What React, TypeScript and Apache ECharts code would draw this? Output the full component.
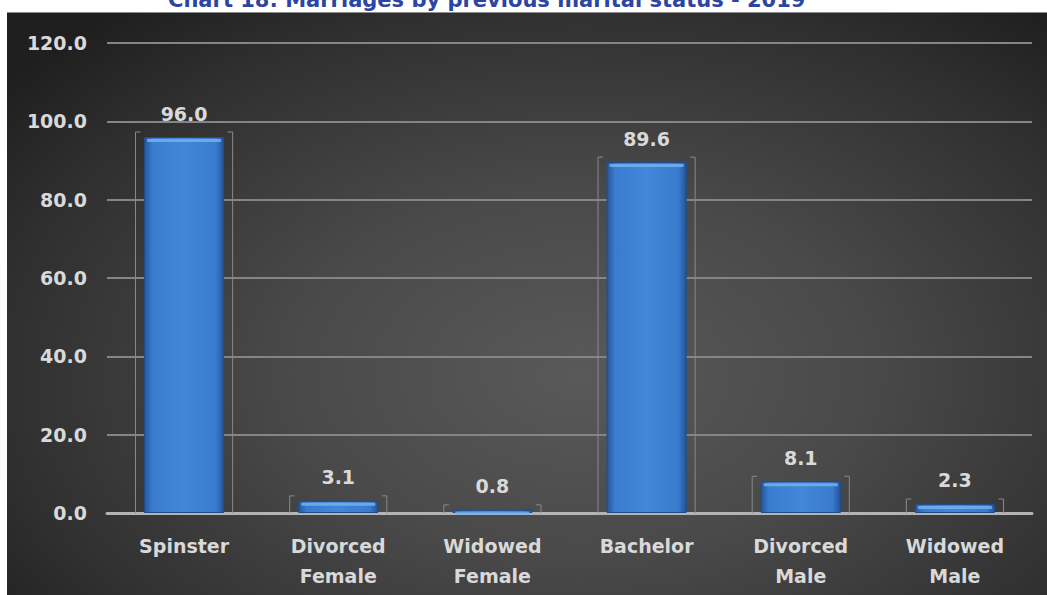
import React, { useEffect, useRef } from "react";
import * as echarts from "echarts";

const categories = ["Spinster", "Divorced\nFemale", "Widowed\nFemale", "Bachelor", "Divorced\nMale", "Widowed\nMale"];
const values = [96.0, 3.1, 0.8, 89.6, 8.1, 2.3];
const titleText = "Chart 18: Marriages by previous marital status - 2019";
const FONT = "DejaVu Sans";

export default function App() {
  const ref = useRef<HTMLDivElement>(null);
  useEffect(() => {
    if (!ref.current) return;
    const chart = echarts.init(ref.current, undefined, { renderer: "svg" });
    const barColor = new echarts.graphic.LinearGradient(0, 0, 1, 0, [
      { offset: 0, color: "#25569c" },
      { offset: 0.1, color: "#3a7ccf" },
      { offset: 0.5, color: "#4287d9" },
      { offset: 0.9, color: "#3a7bcd" },
      { offset: 1, color: "#24549a" },
    ]);
    chart.setOption({
      animation: false,
      backgroundColor: "transparent",
      title: {
        text: titleText,
        left: 163,
        top: -16,
        textStyle: { color: "#2c45a3", fontSize: 21, fontWeight: "bold", fontFamily: FONT },
      },
      grid: { left: 107, right: 15, top: 43, bottom: 82, containLabel: false },
      xAxis: {
        type: "category",
        data: categories,
        axisLine: { show: true, lineStyle: { color: "#b4b4b4", width: 3 } },
        axisTick: { show: false },
        axisLabel: {
          color: "#d9d9d9",
          fontSize: 19,
          fontWeight: "bold",
          fontFamily: FONT,
          lineHeight: 30,
          margin: 18,
          interval: 0,
        },
      },
      yAxis: {
        type: "value",
        min: 0,
        max: 120,
        interval: 20,
        axisLine: { show: false },
        axisTick: { show: false },
        axisLabel: {
          color: "#d9d9d9",
          fontSize: 19,
          fontWeight: "bold",
          fontFamily: FONT,
          margin: 20,
          formatter: (v: number) => v.toFixed(1),
        },
        splitLine: { lineStyle: { color: "#858585", width: 2 } },
      },
      series: [
        {
          type: "custom",
          z: 1,
          data: values.map((v, i) => [i, v]),
          renderItem: (params: any, api: any) => {
            const idx = api.value(0);
            const val = api.value(1);
            const top = api.coord([idx, val]);
            const base = api.coord([idx, 0]);
            const band = api.size([1, 0])[0];
            const fw = band * 0.63;
            const lx = top[0] - fw / 2;
            const rx = top[0] + fw / 2;
            const ty = top[1] - 5;
            const st = { stroke: "#8a8a8a", lineWidth: 1, fill: "none" };
            return {
              type: "group",
              children: [
                { type: "polyline", shape: { points: [[lx + 5, ty], [lx, ty], [lx, base[1]]] }, style: st },
                { type: "polyline", shape: { points: [[rx - 5, ty], [rx, ty], [rx, base[1]]] }, style: st },
              ],
            };
          },
        },
        {
          type: "bar",
          z: 2,
          data: values,
          barWidth: "52%",
          itemStyle: { color: barColor, borderColor: "#1f4c8c", borderWidth: 1 },
          label: {
            show: true,
            position: "top",
            distance: 14,
            color: "#d9d9d9",
            fontSize: 19,
            fontWeight: "bold",
            fontFamily: FONT,
            formatter: (p: any) => Number(p.value).toFixed(1),
          },
        },
        {
          type: "custom",
          z: 3,
          data: values.map((v, i) => [i, v]),
          renderItem: (params: any, api: any) => {
            const idx = api.value(0);
            const val = api.value(1);
            const top = api.coord([idx, val]);
            const band = api.size([1, 0])[0];
            const bw = band * 0.52;
            return {
              type: "rect",
              shape: { x: top[0] - bw / 2 + 3, y: top[1] + 2, width: bw - 6, height: 3, r: 1 },
              style: { fill: "#74b0f0", opacity: 0.85 },
            };
          },
        },
      ],
    });
    return () => chart.dispose();
  }, []);
  return (
    <div style={{ position: "fixed", left: 0, top: 0, width: 1047, height: 595, background: "#ffffff", overflow: "hidden" }}>
      <div
        style={{
          position: "absolute",
          left: 7,
          top: 12,
          right: 0,
          bottom: 0,
          borderTop: "1px solid #8c8c8c",
          background: "radial-gradient(ellipse 70% 80% at 55% 62%, #595959 0%, #494949 40%, #2f2f2f 80%, #1f1f1f 100%)",
        }}
      />
      <div ref={ref} style={{ position: "absolute", left: 0, top: 0, width: 1047, height: 595 }} />
    </div>
  );
}
